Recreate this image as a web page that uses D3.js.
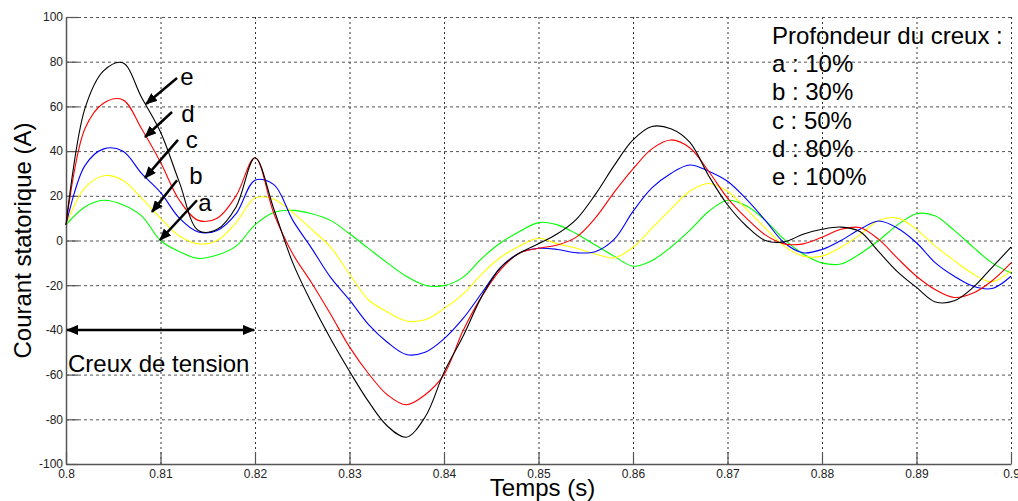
<!DOCTYPE html>
<html>
<head>
<meta charset="utf-8">
<script src="https://cdn.jsdelivr.net/npm/d3@7"></script>
<style>
    body { margin: 0; background: #fff; }
    svg { display: block; font-family: "Liberation Sans", Arial, sans-serif; }
</style>
</head>
<body>
<svg id="svg"></svg>
<script>
// Time samples (s)
const time = [0.800, 0.802, 0.804, 0.806, 0.808, 0.810, 0.812, 0.814, 0.816, 0.818,
              0.820, 0.822, 0.824, 0.826, 0.828, 0.830, 0.832, 0.834, 0.836, 0.838,
              0.840, 0.842, 0.844, 0.846, 0.848, 0.850, 0.852, 0.854, 0.856, 0.858,
              0.860, 0.862, 0.864, 0.866, 0.868, 0.870, 0.872, 0.874, 0.876, 0.878,
              0.880, 0.882, 0.884, 0.886, 0.888, 0.890, 0.892, 0.894, 0.896, 0.898,
              0.900];

// Stator current (A) for each sag depth
const depthA = [7, 15, 18, 16, 11, 0, -5, -8, -6.5, -2.5,
                7, 12.5, 13.5, 12, 9, 3, -3.5, -10, -16, -20,
                -20.2, -16.5, -8, -1, 4, 8, 7, 3, -2, -7,
                -11.5, -9, -3, 4.5, 13, 18, 15.5, 9, 0.5, -6,
                -10, -10.5, -6, 0, 7, 12, 11, 4.5, -3, -10,
                -14.5];
const depthB = [7, 23.5, 29, 27, 19, 10, 2, -1.5, 0, 8,
                19, 18.5, 12.5, 5, -3, -15, -26.5, -32, -36, -35.5,
                -30.5, -24, -15, -7.5, -2.5, 1, -1.5, -3.5, -6, -7.8,
                -3, 5.5, 14, 22, 25.5, 22, 14, 5.5, -2.5, -7,
                -7, -3, 2.5, 9, 10, 5, -2.5, -9, -15, -18.5,
                -13.5];
const depthC = [7, 33.5, 41, 40, 30, 21.5, 10, 3.8, 4.5, 12,
                27, 25, 9, -3.5, -16.5, -26.6, -37.5, -45.5, -51, -50,
                -44, -35, -23.5, -12, -5.6, -3.5, -4, -5.5, -5, 0.5,
                13, 23.5, 30, 33.8, 31, 26.5, 18.5, 9, -1, -5.5,
                -4, 0, 5, 8.7, 5.5, -1, -10, -16, -20.5, -21.5,
                -16];
const depthD = [7, 50, 61.5, 63, 50, 35, 18, 9, 10, 20,
                37, 12, -6, -19, -33, -47.6, -59.5, -69, -73.5, -69,
                -60, -40.5, -25, -13, -5.6, -3.5, -2, 1.5, 10, 21.5,
                32, 41, 45, 41.5, 31, 19, 10, 2.5, -1.5, -1.5,
                1.5, 5, 5.8, 0.5, -8, -16, -22, -25.5, -23.5, -18,
                -10];
const depthE = [7, 59, 76, 79.5, 64, 48.5, 26, 4.5, 5, 15,
                37, 14, -10, -28, -44, -58.5, -72, -83, -88, -79,
                -59, -43, -25, -12, -5.6, -1.5, 3, 9.5, 20.5, 33.5,
                45, 51, 50, 44, 29, 16, 6.5, 0, -0.6, 2.8,
                5, 6, 4, -5, -14, -21, -27.5, -27, -21, -12,
                -3];

const seriesNames = ["a", "b", "c", "d", "e"];
const seriesColors = ["#00ff00", "#ffff00", "#0000ff", "#ff0000", "#000000"];
const seriesValues = [depthA, depthB, depthC, depthD, depthE];

// Tick labels
const xTicks = [0.8, 0.81, 0.82, 0.83, 0.84, 0.85, 0.86, 0.87, 0.88, 0.89, 0.9];
const yTicks = [-100, -80, -60, -40, -20, 0, 20, 40, 60, 80, 100];

// Legend text
const legendTitle = "Profondeur du creux :";
const legendLines = ["a : 10%", "b : 30%", "c : 50%", "d : 80%", "e : 100%"];

// Arrow annotations pointing at the curves, in data units [t, A]
const pointers = [
    { label: "e", from: [0.81175, 72.7], to: [0.80847, 61.1], at: [0.8128, 73.6] },
    { label: "d", from: [0.81122, 57.5], to: [0.80836, 46.3], at: [0.8129, 57] },
    { label: "c", from: [0.81185, 45], to: [0.80836, 28], at: [0.8133, 45.4] },
    { label: "b", from: [0.81175, 27], to: [0.8091, 12.8], at: [0.81376, 28.9] },
    { label: "a", from: [0.81386, 18], to: [0.80995, 0.2], at: [0.8147, 16.8] }
];
const sagSpan = [0.8, 0.82];
const sagLevel = -40;

// SVG dimensions
const width = 1018, height = 501;
const margin = { top: 17, right: 7, bottom: 37, left: 66 };
const plotW = width - margin.left - margin.right;
const plotH = height - margin.top - margin.bottom;

const svg = d3.select("#svg").attr("width", width).attr("height", height);

const defs = svg.append("defs");
defs.append("marker")
    .attr("id", "head")
    .attr("viewBox", "0 0 12 10")
    .attr("refX", 11)
    .attr("refY", 5)
    .attr("markerUnits", "userSpaceOnUse")
    .attr("markerWidth", 12)
    .attr("markerHeight", 10)
    .attr("orient", "auto-start-reverse")
    .append("path")
    .attr("d", "M0,0 L12,5 L0,10 Z")
    .attr("fill", "#000");

const g = svg.append("g").attr("transform", `translate(${margin.left},${margin.top})`);

const x = d3.scaleLinear().domain([0.8, 0.9]).range([0, plotW]);
const y = d3.scaleLinear().domain([-100, 100]).range([plotH, 0]);

// dotted grid
g.append("g")
    .attr("class", "grid")
    .attr("transform", `translate(0,${plotH})`)
    .call(d3.axisBottom(x).tickValues(xTicks.slice(1)).tickSize(-plotH).tickFormat(""))
    .call(s => s.select(".domain").remove())
    .call(s => s.selectAll("line").attr("stroke", "#333").attr("stroke-dasharray", "2,3"));

g.append("g")
    .attr("class", "grid")
    .call(d3.axisLeft(y).tickValues(yTicks.slice(1)).tickSize(-plotW).tickFormat(""))
    .call(s => s.select(".domain").remove())
    .call(s => s.selectAll("line").attr("stroke", "#555").attr("stroke-dasharray", "3,3"));

// axes with inward ticks
const xAxis = g.append("g")
    .attr("transform", `translate(0,${plotH})`)
    .call(d3.axisBottom(x).tickValues(xTicks).tickSize(-12).tickSizeOuter(0).tickPadding(5)
        .tickFormat(d => String(+d.toFixed(2))));
const yAxis = g.append("g")
    .call(d3.axisLeft(y).tickValues(yTicks).tickSize(-12).tickSizeOuter(0).tickPadding(3)
        .tickFormat(d => String(d)));

[xAxis, yAxis].forEach(a => {
    a.select(".domain").attr("stroke", "#555").attr("stroke-width", 1.5);
    a.selectAll(".tick line").attr("stroke", "#555").attr("stroke-width", 1.2);
    a.selectAll(".tick text")
        .attr("font-family", "'Liberation Sans', Arial, sans-serif")
        .attr("font-size", 12)
        .attr("fill", "#222");
});

// curves
const line = d3.line()
    .x((d, i) => x(time[i]))
    .y(d => y(d))
    .curve(d3.curveCatmullRom.alpha(0.5));

g.selectAll(".curve")
    .data(seriesValues)
    .enter()
    .append("path")
    .attr("class", "curve")
    .attr("fill", "none")
    .attr("stroke", (d, i) => seriesColors[i])
    .attr("stroke-width", 1.1)
    .attr("d", line);

// arrows pointing at each curve
g.selectAll(".pointer")
    .data(pointers)
    .enter()
    .append("line")
    .attr("class", "pointer")
    .attr("x1", d => x(d.from[0]))
    .attr("y1", d => y(d.from[1]))
    .attr("x2", d => x(d.to[0]))
    .attr("y2", d => y(d.to[1]))
    .attr("stroke", "#000")
    .attr("stroke-width", 2.5)
    .attr("marker-end", "url(#head)");

g.selectAll(".pointer-label")
    .data(pointers)
    .enter()
    .append("text")
    .attr("x", d => x(d.at[0]))
    .attr("y", d => y(d.at[1]))
    .attr("text-anchor", "middle")
    .attr("dominant-baseline", "central")
    .attr("font-size", 24)
    .attr("fill", "#000")
    .text(d => d.label);

// voltage sag span
g.append("line")
    .attr("x1", x(sagSpan[0]) + 1)
    .attr("x2", x(sagSpan[1]) - 1)
    .attr("y1", y(sagLevel))
    .attr("y2", y(sagLevel))
    .attr("stroke", "#000")
    .attr("stroke-width", 2.5)
    .attr("marker-start", "url(#head)")
    .attr("marker-end", "url(#head)");

g.append("text")
    .attr("x", x(sagSpan[0]) + 2)
    .attr("y", y(-59))
    .attr("font-size", 24)
    .attr("fill", "#000")
    .text("Creux de tension");

// legend
const legend = g.append("g").attr("transform", `translate(${x(0.8747)},27)`);
legend.selectAll("text")
    .data([legendTitle].concat(legendLines))
    .enter()
    .append("text")
    .attr("x", 0)
    .attr("y", (d, i) => i * 28.2)
    .attr("font-size", 24)
    .attr("fill", "#000")
    .text(d => d);

// axis titles
svg.append("text")
    .attr("transform", `translate(31,${margin.top + plotH / 2}) rotate(-90)`)
    .attr("text-anchor", "middle")
    .attr("font-size", 24)
    .attr("fill", "#000")
    .text("Courant statorique (A)");

svg.append("text")
    .attr("x", margin.left + plotW / 2 + 4)
    .attr("y", 496)
    .attr("text-anchor", "middle")
    .attr("font-size", 24)
    .attr("fill", "#000")
    .text("Temps (s)");
</script>
</body>
</html>
